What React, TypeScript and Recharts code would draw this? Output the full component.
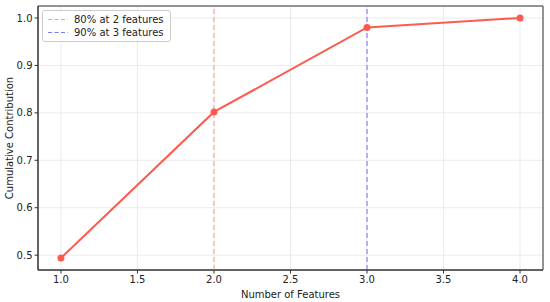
import * as React from "react";
import {
  LineChart,
  Line,
  XAxis,
  YAxis,
  CartesianGrid,
  ReferenceLine,
  ReferenceArea,
} from "recharts";

const features = [1, 2, 3, 4];
const cumulative = [0.494, 0.802, 0.98, 1.0];
const xTicks = [1.0, 1.5, 2.0, 2.5, 3.0, 3.5, 4.0];
const yTicks = [0.5, 0.6, 0.7, 0.8, 0.9, 1.0];
const thresholds = [
  { x: 2, label: "80% at 2 features", color: "#ff9d8c" },
  { x: 3, label: "90% at 3 features", color: "#7a7aff" },
];

const data = features.map((f, i) => ({ features: f, value: cumulative[i] }));

const FONT = "DejaVu Sans, sans-serif";
const X_DOMAIN: [number, number] = [0.85, 4.15];
const Y_DOMAIN: [number, number] = [0.4687, 1.0253];

function LegendBox() {
  return (
    <div
      style={{
        position: "absolute",
        left: 42,
        top: 10,
        border: "1px solid #ccc",
        borderRadius: 3,
        background: "rgba(255,255,255,0.85)",
        padding: "2px 6px 2px 5px",
        fontFamily: FONT,
        fontSize: 10,
        color: "#222",
        lineHeight: "13px",
      }}
    >
      {thresholds.map((t) => (
        <div key={t.label} style={{ display: "flex", alignItems: "center" }}>
          <svg width={20} height={13} style={{ marginRight: 6 }}>
            <line x1={0} y1={6.5} x2={20} y2={6.5} stroke={t.color} strokeWidth={1.2} strokeDasharray="4 2.5" />
          </svg>
          <span>{t.label}</span>
        </div>
      ))}
    </div>
  );
}

export default function App() {
  return (
    <div style={{ position: "absolute", left: 0, top: 0, width: 550, height: 302, background: "#fff" }}>
      <LineChart width={550} height={302} data={data} margin={{ top: 6, right: 7, left: 0, bottom: 0 }}>
        <CartesianGrid stroke="#e6e6e6" strokeWidth={0.8} />
        <XAxis
          dataKey="features"
          type="number"
          domain={X_DOMAIN}
          ticks={xTicks}
          tickFormatter={(v) => Number(v).toFixed(1)}
          height={32}
          stroke="#333"
          tickSize={3.5}
          tick={{ fill: "#222", fontSize: 10, fontFamily: FONT }}
          label={{ value: "Number of Features", position: "insideBottom", offset: 4, fill: "#222", fontSize: 10, fontFamily: FONT }}
          allowDataOverflow
        />
        <YAxis
          type="number"
          domain={Y_DOMAIN}
          ticks={yTicks}
          tickFormatter={(v) => Number(v).toFixed(1)}
          width={38}
          stroke="#333"
          tickSize={3.5}
          tick={{ fill: "#222", fontSize: 10, fontFamily: FONT }}
          label={{ value: "Cumulative Contribution", angle: -90, position: "insideLeft", offset: 9, fill: "#222", fontSize: 10, fontFamily: FONT, style: { textAnchor: "middle" } }}
          allowDataOverflow
        />
        <ReferenceArea
          x1={X_DOMAIN[0]}
          x2={X_DOMAIN[1]}
          y1={Y_DOMAIN[0]}
          y2={Y_DOMAIN[1]}
          fill="none"
          stroke="#333"
          strokeWidth={1}
          fillOpacity={0}
        />
        {thresholds.map((t) => (
          <ReferenceLine key={t.label} x={t.x} stroke={t.color} strokeDasharray="5 3" strokeWidth={1.1} />
        ))}
        <Line
          type="linear"
          dataKey="value"
          stroke="#ff5a4f"
          strokeWidth={2}
          dot={{ r: 3.5, fill: "#ff5a4f", stroke: "#ff5a4f", strokeWidth: 0 }}
          isAnimationActive={false}
        />
      </LineChart>
      <LegendBox />
    </div>
  );
}
